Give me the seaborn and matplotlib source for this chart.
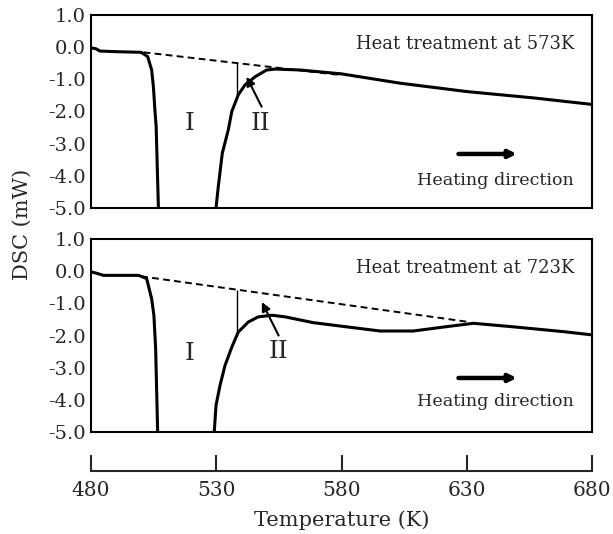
import numpy as np
import pandas as pd
import seaborn as sns
import matplotlib.pyplot as plt
from matplotlib.ticker import FormatStrFormatter

# heat treatment at 573 K: endothermic drop (peak I) and recovery
t573_drop = [480, 482, 483.5, 490, 500, 502.6, 504.2, 504.9, 505.5, 506.0, 506.9]
dsc573_drop = [-0.02, -0.05, -0.12, -0.14, -0.16, -0.29, -0.71, -1.23, -1.95, -2.47, -5.0]
t573_rise = [529.9, 530.8, 532.4, 534.8, 536.2, 538.8, 541.5, 545.5, 550.1, 553.5,
             563.5, 580, 603.4, 630, 657, 680]
dsc573_rise = [-5.0, -4.34, -3.30, -2.57, -2.0, -1.48, -1.17, -0.92, -0.71, -0.68,
               -0.71, -0.83, -1.12, -1.38, -1.58, -1.78]
base573_t = [501, 580]
base573 = [-0.16, -0.87]
split573 = (538.4, -0.50, -1.52)

# heat treatment at 723 K
t723_drop = [480, 482, 485, 499, 502.2, 504.2, 505.1, 505.8, 506.6]
dsc723_drop = [-0.02, -0.06, -0.13, -0.13, -0.23, -0.86, -1.37, -2.41, -5.0]
t723_rise = [529.2, 529.9, 531.5, 533.5, 536.2, 538.8, 542.8, 546.8, 552.2, 557.5,
             568.7, 582, 595.4, 608.7, 619.4, 632.7, 648.6, 668.6, 680]
dsc723_rise = [-5.0, -4.17, -3.55, -2.93, -2.36, -1.89, -1.58, -1.42, -1.37, -1.42,
               -1.60, -1.73, -1.86, -1.86, -1.75, -1.62, -1.73, -1.88, -1.98]
base723_t = [500, 630]
base723 = [-0.16, -1.57]
split723 = (538.4, -0.58, -1.89)

x_ticks = [480, 530, 580, 630, 680]
y_ticks = [-5, -4, -3, -2, -1, 0, 1]

sns.set_style("white")
plt.rcParams["font.family"] = ["DejaVu Serif"]
plt.rcParams["axes.unicode_minus"] = False

fig = plt.figure(figsize=(6.13, 5.34), dpi=100)
ax1 = fig.add_axes([0.1485, 0.6105, 0.8172, 0.3614])
ax2 = fig.add_axes([0.1485, 0.191, 0.8172, 0.3614])


def draw_panel(ax, drop_t, drop_v, rise_t, rise_v, base_t, base_v, split, title,
               lab1, lab2, arr_tail, arr_head, heat_y):
    sns.lineplot(x=np.array(drop_t), y=np.array(drop_v), ax=ax, color="black",
                 lw=2.2, sort=False, estimator=None)
    sns.lineplot(x=np.array(rise_t), y=np.array(rise_v), ax=ax, color="black",
                 lw=2.2, sort=False, estimator=None)
    sns.lineplot(x=np.array(base_t), y=np.array(base_v), ax=ax, color="black",
                 lw=1.4, dashes=False, sort=False, estimator=None)
    ax.lines[-1].set_dashes((3.5, 2.2))
    ax.vlines(split[0], split[2], split[1], color="black", lw=1.0)

    ax.set_xlim(480, 680)
    ax.set_ylim(-5, 1)
    ax.set_xticks([530, 580, 630])
    ax.set_yticks(y_ticks)
    ax.yaxis.set_major_formatter(FormatStrFormatter("%.1f"))
    ax.tick_params(axis="x", direction="in", length=5, width=1, labelbottom=False)
    ax.tick_params(axis="y", direction="in", length=4, width=1, labelsize=14, pad=4)
    for s in ax.spines.values():
        s.set_linewidth(1.5)
        s.set_color("black")
    ax.set_xlabel("")
    ax.set_ylabel("")

    ax.text(672.8, 0.10, title, ha="right", va="center", fontsize=13)
    ax.text(lab1[0], lab1[1], "I", ha="center", va="center", fontsize=18)
    ax.text(lab2[0], lab2[1], "II", ha="center", va="center", fontsize=18)
    ax.annotate("", xy=arr_head, xytext=arr_tail,
                arrowprops=dict(arrowstyle="-|>", color="black", lw=1.5,
                                mutation_scale=13, shrinkA=0, shrinkB=0))
    ax.annotate("", xy=(650, -3.32), xytext=(626.7, -3.32),
                arrowprops=dict(arrowstyle="-|>", color="black", lw=3.2,
                                mutation_scale=11, shrinkA=0, shrinkB=0))
    ax.text(672.8, heat_y, "Heating direction", ha="right", va="center", fontsize=12.6)


draw_panel(ax1, t573_drop, dsc573_drop, t573_rise, dsc573_rise, base573_t, base573,
           split573, "Heat treatment at 573K", (519.5, -2.37), (547.7, -2.36),
           (548.1, -1.85), (542.1, -0.92), -4.13)
draw_panel(ax2, t723_drop, dsc723_drop, t723_rise, dsc723_rise, base723_t, base723,
           split723, "Heat treatment at 723K", (519.2, -2.56), (554.7, -2.50),
           (554.9, -2.0), (548.2, -0.96), -4.04)

sec = ax2.secondary_xaxis(-0.202)
sec.set_xticks(x_ticks)
sec.tick_params(direction="in", length=11.5, width=1.5, labelsize=14.5, pad=7)
sec.spines["bottom"].set_linewidth(1.5)
sec.set_xlabel("Temperature (K)", fontsize=15, labelpad=8)

fig.text(0.036, 0.58, "DSC (mW)", rotation=90, ha="center", va="center", fontsize=15)

fig.savefig("out.png", dpi=100)
